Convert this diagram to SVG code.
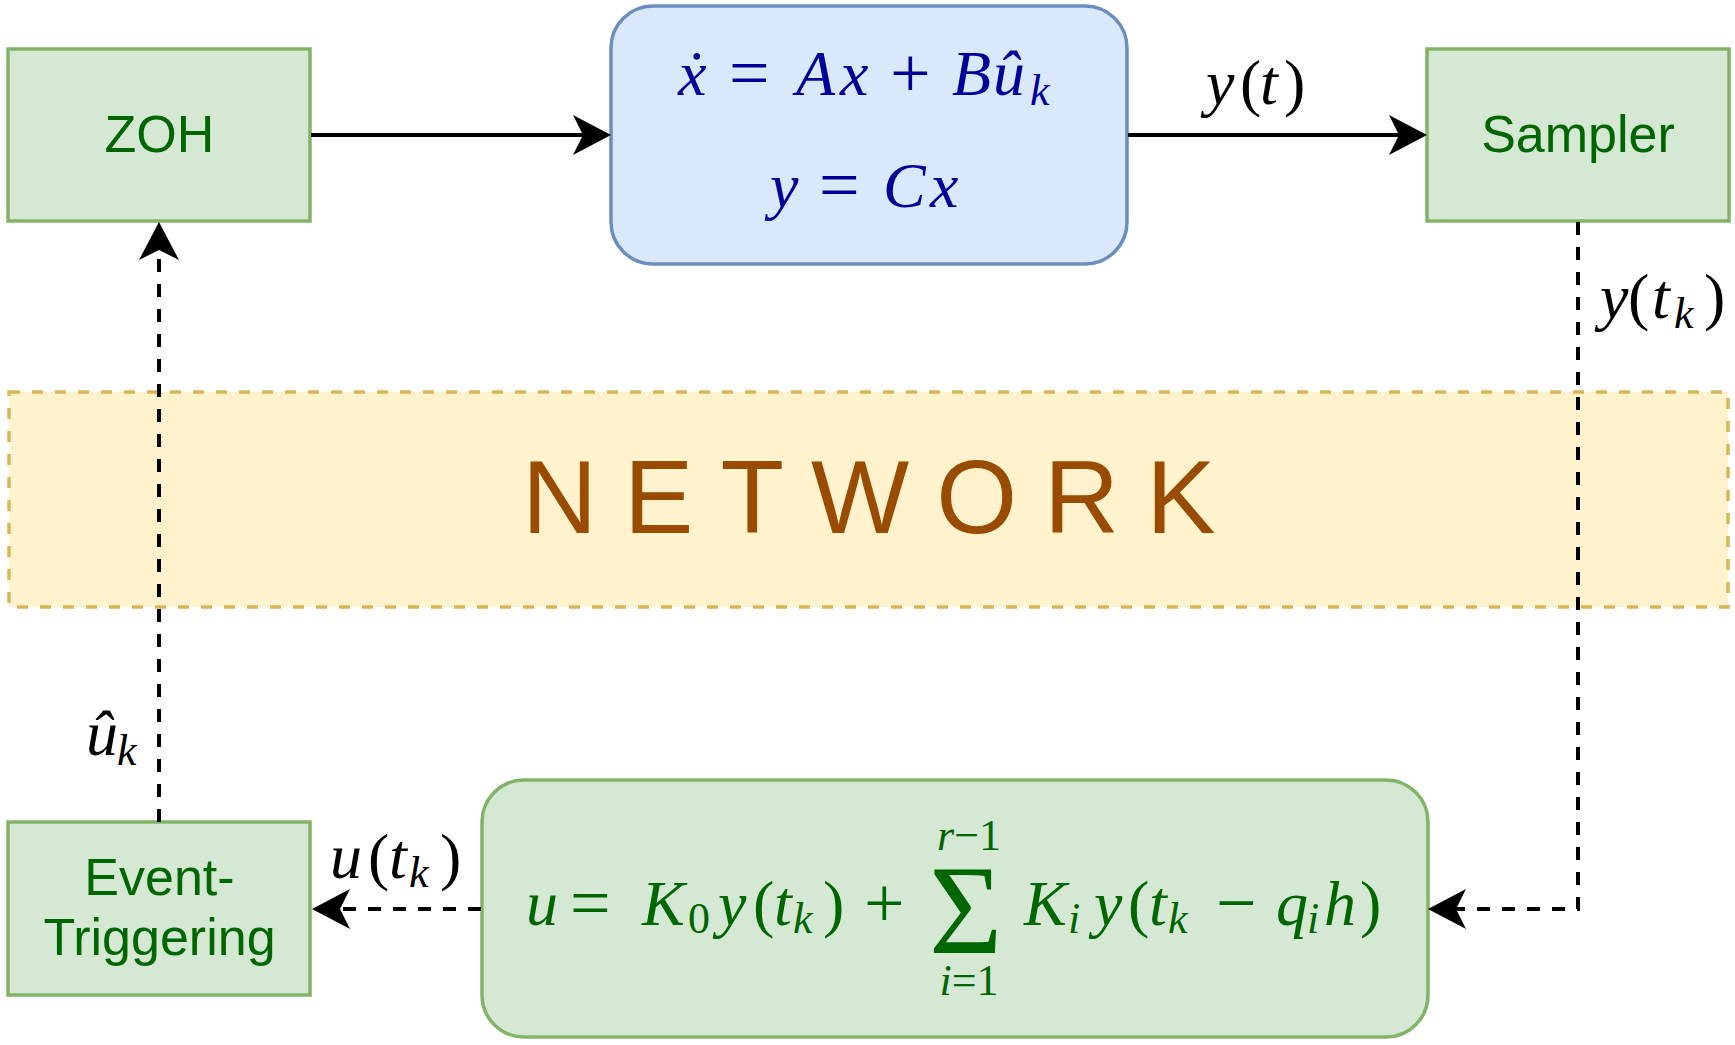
<svg xmlns="http://www.w3.org/2000/svg" width="1735" height="1045" viewBox="0 0 1735 1045">
<style>
.gbox{fill:#d5e8d4;stroke:#82b366;stroke-width:3.5}
.lbl{font-family:"Liberation Sans",Arial,sans-serif;font-size:52px;fill:#006600;text-anchor:middle}
.m{font-family:"Liberation Serif","Times New Roman",serif;font-size:64px}
.i{font-style:italic}
.s{font-size:44px}
.op{font-size:72px}
.line{fill:none;stroke:#000;stroke-width:4}
.dash{stroke-dasharray:13 12}
</style>
<defs>
<marker id="arr" viewBox="0 0 38 40" refX="18" refY="20" markerWidth="38" markerHeight="40" markerUnits="userSpaceOnUse" orient="auto">
<path d="M0,0 L38,20 L0,40 L10,20 Z" fill="#000"/>
</marker>
</defs>

<g id="network">
<rect x="9" y="392" width="1719" height="215" fill="#fff2cc" stroke="#d6b656" stroke-width="3.5" stroke-dasharray="11 12"/>
<text x="522" y="533" font-family="'Liberation Sans',Arial,sans-serif" font-size="104" fill="#994c00" letter-spacing="27">NETWORK</text>
</g>

<g id="zoh">
<rect class="gbox" x="8" y="49" width="302" height="172"/>
<text class="lbl" x="159.5" y="152">ZOH</text>
</g>

<g id="plant">
<rect x="611" y="6" width="516" height="258" rx="42" fill="#dae8fc" stroke="#6c8ebf" stroke-width="3.5"/>
<text class="m" fill="#000099">
<tspan class="i" x="678" y="95">ẋ</tspan><tspan class="op" x="729" y="97">=</tspan><tspan class="i" x="796" y="95">A</tspan><tspan class="i" x="840">x</tspan><tspan class="op" x="890" y="97">+</tspan><tspan class="i" x="952" y="95">B</tspan><tspan class="i" x="993">û</tspan><tspan class="i s" x="1030" y="105">k</tspan>
<tspan class="i" x="770" y="207">y</tspan><tspan class="op" x="819" y="209">=</tspan><tspan class="i" x="883" y="207">C</tspan><tspan class="i" x="930">x</tspan>
</text>
</g>

<g id="sampler">
<rect class="gbox" x="1427" y="49" width="302" height="172"/>
<text class="lbl" x="1578" y="152">Sampler</text>
</g>

<g id="event">
<rect class="gbox" x="8" y="822" width="302" height="173"/>
<text class="lbl" x="159.5" y="895">Event-</text>
<text class="lbl" x="159.5" y="955">Triggering</text>
</g>

<g id="controller">
<rect class="gbox" x="482" y="780" width="946" height="257" rx="42"/>
<text class="m" fill="#006600">
<tspan class="i" x="526" y="925">u</tspan><tspan class="op" x="570" y="927">=</tspan><tspan class="i" x="642" y="925">K</tspan><tspan class="s" x="688" y="933">0</tspan><tspan class="i" x="718" y="925">y</tspan><tspan x="753">(</tspan><tspan class="i" x="774">t</tspan><tspan class="i s" x="793" y="933">k</tspan><tspan x="823" y="925">)</tspan><tspan class="op" x="864" y="927">+</tspan><tspan class="i" x="1024" y="925">K</tspan><tspan class="i s" x="1068" y="933">i</tspan><tspan class="i" x="1094" y="925">y</tspan><tspan x="1128">(</tspan><tspan class="i" x="1149">t</tspan><tspan class="i s" x="1168" y="933">k</tspan><tspan class="op" x="1216" y="927">−</tspan><tspan class="i" x="1276" y="925">q</tspan><tspan class="i s" x="1307" y="933">i</tspan><tspan class="i" x="1324" y="925">h</tspan><tspan x="1360">)</tspan>
</text>
<text class="m" fill="#006600" style="font-size:126px" x="929" y="953">Σ</text>
<text class="m s" fill="#006600" text-anchor="middle" x="969" y="850"><tspan class="i">r</tspan>−1</text>
<text class="m s" fill="#006600" text-anchor="middle" x="969" y="995"><tspan class="i">i</tspan>=1</text>
</g>

<g id="connectors">
<path class="line" d="M311,135 H591" marker-end="url(#arr)"/>
<path class="line" d="M1128,135 H1407" marker-end="url(#arr)"/>
<path class="line dash" d="M1578,222 V909 H1448" marker-end="url(#arr)"/>
<path class="line dash" d="M481,909 H332" marker-end="url(#arr)"/>
<path class="line dash" d="M159,822 V242" marker-end="url(#arr)"/>
</g>

<g id="labels" fill="#000">
<text class="m"><tspan class="i" x="1206" y="104">y</tspan><tspan x="1240">(</tspan><tspan class="i" x="1260">t</tspan><tspan x="1284">)</tspan></text>
<text class="m"><tspan class="i" x="1600" y="318">y</tspan><tspan x="1628">(</tspan><tspan class="i" x="1652">t</tspan><tspan class="i s" x="1674" y="328">k</tspan><tspan x="1704" y="318">)</tspan></text>
<text class="m"><tspan class="i" x="86" y="755">û</tspan><tspan class="i s" x="117" y="765">k</tspan></text>
<text class="m"><tspan class="i" x="330" y="878">u</tspan><tspan x="368">(</tspan><tspan class="i" x="389">t</tspan><tspan class="i s" x="409" y="887">k</tspan><tspan x="440" y="878">)</tspan></text>
</g>
</svg>
